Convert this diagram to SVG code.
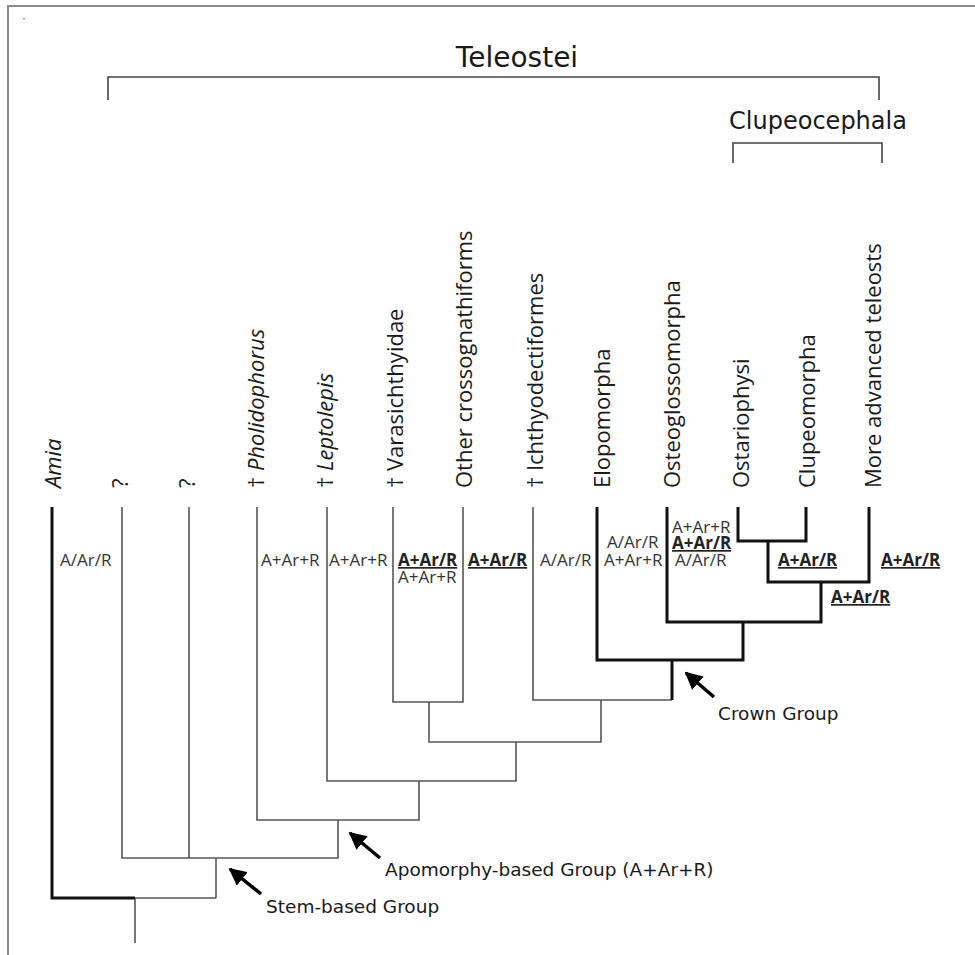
<svg xmlns="http://www.w3.org/2000/svg" width="975" height="955" viewBox="0 0 975 955">
<defs>
<marker id="ah" viewBox="0 0 10 10" refX="9" refY="5" markerWidth="5" markerHeight="5" orient="auto" markerUnits="strokeWidth">
<path d="M0,0 L10,5 L0,10 z" fill="#000"/>
</marker>
<style>
.frame{fill:none;stroke:#8a8a8a;stroke-width:2}
.thin{fill:none;stroke:#555;stroke-width:1.6}
.thick{fill:none;stroke:#111;stroke-width:3}
.brk{fill:none;stroke:#444;stroke-width:1.6}
.arrow{fill:none;stroke:#000;stroke-width:3.5}
.tax{font-family:"Open Sans","DejaVu Sans",sans-serif;font-size:22px;fill:#1a1a1a}
.it{font-style:italic}
.ch{font-family:"Open Sans","DejaVu Sans",sans-serif;font-size:17px;fill:#333}
.chb{font-family:"Open Sans","DejaVu Sans",sans-serif;font-size:17px;font-weight:bold;fill:#222;text-decoration:underline}
.ann{font-family:"DejaVu Sans",sans-serif;font-size:18.5px;fill:#1a1a1a}
.grp{font-family:"DejaVu Sans",sans-serif;fill:#1a1a1a}
</style>
</defs>
<rect width="975" height="955" fill="#fff"/>
<path class="frame" d="M8,955 V6 H975"/>
<rect x="23" y="18" width="2" height="1.5" fill="#999"/>

<g id="teleostei">
<path class="brk" d="M108,100 V77 H879 V100"/>
<text class="grp" x="517" y="67" font-size="28" text-anchor="middle">Teleostei</text>
</g>
<g id="clupeocephala">
<path class="brk" d="M733,163 V143 H882 V163"/>
<text class="grp" x="818" y="129" font-size="24" text-anchor="middle">Clupeocephala</text>
</g>

<g id="connectors">
<path class="thin" d="M122,507 V858 H338 V820"/>
<path class="thin" d="M189,507 V858"/>
<path class="thin" d="M216,858 V898"/>
<path class="thin" d="M135,898 H216"/>
<path class="thin" d="M135,898 V943"/>
<path class="thin" d="M257,507 V820 H419 V781"/>
<path class="thin" d="M327,507 V781 H516 V742"/>
<path class="thin" d="M429,702 V742 H601 V700"/>
<path class="thin" d="M393,507 V702 H463 V507"/>
<path class="thin" d="M533,507 V700 H672"/>
<path class="thick" d="M52,507 V898 H135"/>
<path class="thick" d="M672,700 V660"/>
<path class="thick" d="M597,507 V660 H743 V622"/>
<path class="thick" d="M667,507 V622 H821 V582"/>
<path class="thick" d="M768,541 V582 H869 V507"/>
<path class="thick" d="M738,507 V541 H806 V507"/>
</g>

<g id="amia"><text class="tax it" transform="translate(61,488) rotate(-90)">Amia</text></g>
<g id="unknown1"><text class="tax" transform="translate(128,488) rotate(-90)">?</text></g>
<g id="unknown2"><text class="tax" transform="translate(195,488) rotate(-90)">?</text></g>
<g id="pholidophorus"><text class="tax" transform="translate(264,488) rotate(-90)">† <tspan class="it">Pholidophorus</tspan></text></g>
<g id="leptolepis"><text class="tax" transform="translate(333,488) rotate(-90)">† <tspan class="it">Leptolepis</tspan></text></g>
<g id="varasichthyidae"><text class="tax" transform="translate(403,488) rotate(-90)">† Varasichthyidae</text></g>
<g id="crossognathiforms"><text class="tax" transform="translate(472,488) rotate(-90)">Other crossognathiforms</text></g>
<g id="ichthyodectiformes"><text class="tax" transform="translate(543,488) rotate(-90)">† Ichthyodectiformes</text></g>
<g id="elopomorpha"><text class="tax" transform="translate(610,488) rotate(-90)">Elopomorpha</text></g>
<g id="osteoglossomorpha"><text class="tax" transform="translate(680,488) rotate(-90)">Osteoglossomorpha</text></g>
<g id="ostariophysi"><text class="tax" transform="translate(749,488) rotate(-90)">Ostariophysi</text></g>
<g id="clupeomorpha"><text class="tax" transform="translate(815,488) rotate(-90)">Clupeomorpha</text></g>
<g id="advanced"><text class="tax" transform="translate(881,488) rotate(-90)">More advanced teleosts</text></g>

<g id="characters">
<text class="ch" x="60" y="566">A/Ar/R</text>
<text class="ch" x="261" y="566">A+Ar+R</text>
<text class="ch" x="329" y="566">A+Ar+R</text>
<text class="chb" x="398" y="566">A+Ar/R</text>
<text class="ch" x="398" y="583">A+Ar+R</text>
<text class="chb" x="468" y="566">A+Ar/R</text>
<text class="ch" x="540" y="566">A/Ar/R</text>
<text class="ch" x="607" y="548">A/Ar/R</text>
<text class="ch" x="604" y="566">A+Ar+R</text>
<text class="ch" x="672" y="533">A+Ar+R</text>
<text class="chb" x="672" y="549">A+Ar/R</text>
<text class="ch" x="675" y="566">A/Ar/R</text>
<text class="chb" x="778" y="566">A+Ar/R</text>
<text class="chb" x="881" y="566">A+Ar/R</text>
<text class="chb" x="831" y="603">A+Ar/R</text>
</g>

<g id="crown">
<path class="arrow" d="M714,697 L686,673" marker-end="url(#ah)"/>
<text class="ann" x="718" y="720">Crown Group</text>
</g>
<g id="apomorphy">
<path class="arrow" d="M380,858 L350,833" marker-end="url(#ah)"/>
<text class="ann" x="385" y="876">Apomorphy-based Group (A+Ar+R)</text>
</g>
<g id="stem">
<path class="arrow" d="M261,894 L230,869" marker-end="url(#ah)"/>
<text class="ann" x="266" y="913">Stem-based Group</text>
</g>
</svg>
